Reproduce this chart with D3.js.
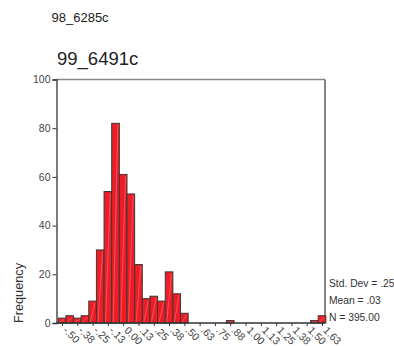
<!DOCTYPE html>
<html lang="en">
<head>
    <meta charset="UTF-8">
    <title>99_6491c</title>
    <script src="https://d3js.org/d3.v7.min.js"></script>
    <style>
        body { margin: 0; background: #fff; }
        svg { font-family: Arial, "Liberation Sans", sans-serif; }
        .tick text { fill: #444; }
    </style>
</head>
<body>
    <svg id="chart"></svg>

    <script>
        // Bin midpoints (width .0625) and their counts
        const binStart = -0.5;
        const binWidth = 0.0625;
        const counts = [2, 3, 2, 3, 9, 30, 54, 82, 61, 53, 24, 10, 11, 9, 21, 12, 4,
                        0, 0, 0, 0, 0, 1, 0, 0, 0, 0, 0, 0, 0, 0, 0, 0, 1, 3];
        const xTickValues = d3.range(18).map(i => -0.5 + i * 0.125);
        const xTickLabels = ["-.50", "-.38", "-.25", "-.13", "0.00", ".13", ".25", ".38", ".50",
                             ".63", ".75", ".88", "1.00", "1.13", "1.25", "1.38", "1.50", "1.63"];
        const yTicks = [0, 20, 40, 60, 80, 100];
        const stats = ["Std. Dev = .25", "Mean = .03", "N = 395.00"];

        const width = 394, height = 346;
        const plotLeft = 56.5, plotRight = 325, plotTop = 79.5, plotBottom = 323;

        const svg = d3.select("#chart")
            .attr("width", width)
            .attr("height", height);

        const x = d3.scaleLinear().domain([-0.5, 1.625]).range([62, 322]);
        const y = d3.scaleLinear().domain([0, 100]).range([plotBottom, plotTop]);

        const bins = counts.map((c, i) => ({ mid: binStart + i * binWidth, n: c }))
            .filter(d => d.n > 0);
        const bw = x(binWidth) - x(0);

        // Titles
        svg.append("text").attr("x", 51.5).attr("y", 22)
            .attr("font-size", 13).attr("fill", "#222").text("98_6285c");
        svg.append("text").attr("x", 57).attr("y", 64.5)
            .attr("font-size", 18.5).attr("fill", "#222").text("99_6491c");

        // Frame: top and right
        svg.append("line").attr("x1", plotLeft).attr("x2", plotRight).attr("y1", plotTop).attr("y2", plotTop)
            .attr("stroke", "#888").attr("stroke-width", 1.5);
        svg.append("line").attr("x1", plotRight).attr("x2", plotRight).attr("y1", plotTop).attr("y2", plotBottom)
            .attr("stroke", "#333").attr("stroke-width", 1.2);

        // Bars
        const bar = svg.append("g").selectAll("g")
            .data(bins).enter().append("g");

        bar.append("rect")
            .attr("x", d => x(d.mid) - bw / 2)
            .attr("y", d => y(d.n))
            .attr("width", bw)
            .attr("height", d => y(0) - y(d.n))
            .attr("fill", "#ee1c25")
            .attr("stroke", "#3a3a3a")
            .attr("stroke-width", 1);

        // faint highlight streak inside each bar
        bar.append("line")
            .attr("x1", d => x(d.mid) - bw / 2 + 1.5)
            .attr("y1", y(0) - 1)
            .attr("x2", d => x(d.mid) + bw / 2 - 1.5)
            .attr("y2", d => y(d.n) + 1.5)
            .attr("stroke", "#fff")
            .attr("stroke-opacity", 0.3)
            .attr("stroke-width", 0.8);

        // Y axis
        const yAxis = svg.append("g")
            .attr("transform", `translate(${plotLeft},0)`)
            .call(d3.axisLeft(y).tickValues(yTicks).tickSize(4).tickPadding(2));
        yAxis.select(".domain").attr("stroke", "#333").attr("stroke-width", 1.3);
        yAxis.selectAll(".tick line").attr("stroke", "#333");
        yAxis.selectAll(".tick text").attr("font-size", 10.5).attr("font-family", "Arial, sans-serif");

        // X axis
        const xAxis = svg.append("g")
            .attr("transform", `translate(0,${plotBottom})`)
            .call(d3.axisBottom(x).tickValues(xTickValues)
                .tickFormat((d, i) => xTickLabels[i]).tickSize(3).tickSizeOuter(0));
        xAxis.select(".domain").attr("d", `M${plotLeft},0H${plotRight}`)
            .attr("stroke", "#333").attr("stroke-width", 1.3);
        xAxis.selectAll(".tick line").attr("stroke", "#333");
        xAxis.selectAll(".tick text")
            .attr("font-size", 10.5).attr("font-family", "Arial, sans-serif")
            .attr("text-anchor", "start")
            .attr("dy", null).attr("y", 0)
            .attr("transform", "translate(0,8) rotate(45)");

        // Y label
        svg.append("text")
            .attr("transform", "translate(23,293) rotate(-90)")
            .attr("text-anchor", "middle")
            .attr("font-size", 12.7).attr("fill", "#333")
            .text("Frequency");

        // Stats
        svg.append("g").selectAll("text")
            .data(stats).enter().append("text")
            .attr("x", 329)
            .attr("y", (d, i) => 287.3 + i * 16.6)
            .attr("font-size", 10.3).attr("fill", "#333")
            .text(d => d);
    </script>
</body>
</html>
